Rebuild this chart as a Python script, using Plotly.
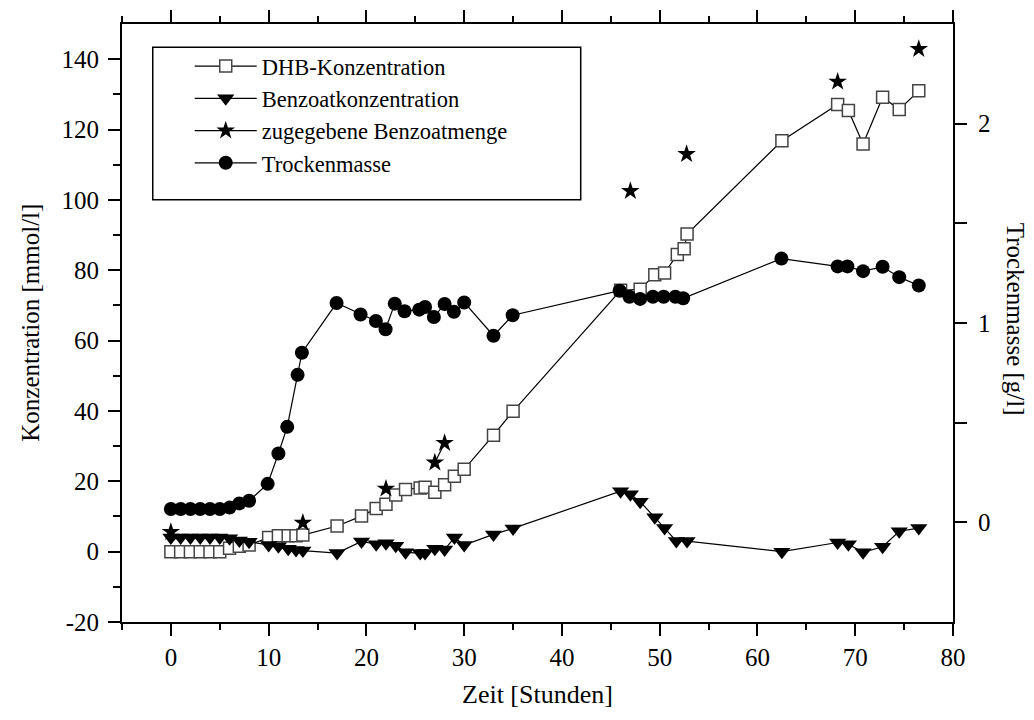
import plotly.graph_objects as go

# ---------------- data ----------------
dhb_t = [0, 1, 2, 3, 4, 5, 6, 7, 8, 10, 11, 12, 12.8, 13.5, 17, 19.5, 21, 22, 23, 24,
         25.5, 26, 27, 28, 29, 30, 33, 35, 46, 48, 49.5, 50.5, 51.8, 52.5, 52.8,
         62.5, 68.2, 69.3, 70.8, 72.8, 74.5, 76.5]
dhb_c = [0, 0, 0, 0, 0, 0, 1.0, 1.5, 1.9, 4.0, 4.5, 4.5, 4.5, 4.7, 7.3, 10.1, 12.3, 13.5, 16.1, 17.7,
         18.1, 18.3, 16.9, 19.0, 21.4, 23.4, 33.1, 39.9, 74.3, 74.6, 78.7, 79.2, 84.5, 86.1, 90.3,
         116.8, 127.1, 125.4, 115.9, 129.2, 125.7, 131.0]

benz_t = [0, 1, 2, 3, 4, 5, 6, 7, 8, 10, 11, 12, 12.8, 13.5, 17, 19.5, 21, 22, 23, 24,
          25.5, 26, 27, 28, 29, 30, 33, 35, 46, 47, 48, 49.5, 50.5, 51.7, 52.8,
          62.5, 68.2, 69.3, 70.8, 72.8, 74.5, 76.5]
benz_c = [4.0, 4.0, 4.0, 4.0, 4.0, 4.0, 3.8, 3.2, 2.8, 1.9, 1.5, 0.8, 0.5, 0.3, -0.4, 2.9, 2.1, 2.4, 1.7, -0.2,
          -0.4, -0.4, 0.8, 0.6, 4.0, 1.9, 4.9, 6.6, 17.2, 16.3, 14.2, 9.8, 6.7, 3.0, 3.0,
          0.0, 2.6, 2.1, -0.2, 1.4, 5.8, 6.7]

# added benzoate (None = gap, only 27 h -> 28 h are connected)
zug_t = [0, None, 13.5, None, 22, None, 27, 28, None, 47, None, 52.75, None, 68.2, None, 76.5]
zug_c = [5.6, None, 8.2, None, 17.9, None, 25.3, 30.9, None, 102.5, None, 113.0, None, 133.6, None, 142.9]

tm_t = [0, 1, 2, 3, 4, 5, 6, 7, 8, 9.9, 11.0, 11.9, 12.96, 13.4, 16.95, 19.4, 20.97, 21.96, 22.9,
        23.9, 25.4, 26.0, 26.9, 28.0, 28.95, 30.0, 33.0, 34.96, 45.9, 46.9, 48.0, 49.3, 50.4,
        51.6, 52.4, 62.45, 68.2, 69.2, 70.8, 72.8, 74.5, 76.5]
tm_g = [0.067, 0.067, 0.067, 0.067, 0.067, 0.067, 0.074, 0.095, 0.108, 0.193, 0.345, 0.479, 0.74,
        0.851, 1.10, 1.043, 1.01, 0.969, 1.097, 1.059, 1.067, 1.08, 1.03, 1.095, 1.056, 1.103,
        0.936, 1.039, 1.162, 1.132, 1.121, 1.132, 1.132, 1.132, 1.124, 1.323, 1.284, 1.284,
        1.26, 1.282, 1.23, 1.188]

x_ticks = [0, 10, 20, 30, 40, 50, 60, 70, 80]
y_ticks = [-20, 0, 20, 40, 60, 80, 100, 120, 140]
y_text = ["-20", "0", "20", "40", "60", "80", "100", "120", "140"]
y2_ticks = [0, 0.5, 1, 1.5, 2]
y2_text = ["0", "", "1", "", "2"]

FONT = "Liberation Serif"
LINE = dict(color="black", width=1.2)

fig = go.Figure()
fig.add_trace(go.Scatter(
    x=dhb_t, y=dhb_c, name="DHB-Konzentration", mode="lines+markers", line=LINE,
    legendgroup="a",
    marker=dict(symbol="square", size=12, color="white", line=dict(color="#444", width=1.5))))
fig.add_trace(go.Scatter(
    x=benz_t, y=benz_c, name="Benzoatkonzentration", mode="lines+markers", line=LINE,
    legendgroup="b",
    marker=dict(symbol="triangle-down", size=15, color="black", line=dict(width=0))))
fig.add_trace(go.Scatter(
    x=zug_t, y=zug_c, name="zugegebene Benzoatmenge", mode="lines+markers", line=LINE,
    legendgroup="c", connectgaps=False,
    marker=dict(symbol="star", size=14, color="black", line=dict(width=0))))
fig.add_trace(go.Scatter(
    x=tm_t, y=tm_g, name="Trockenmasse", mode="lines+markers", line=LINE, yaxis="y2",
    legendgroup="d",
    marker=dict(symbol="circle", size=14, color="black", line=dict(width=0))))

axis_common = dict(showgrid=False, zeroline=False, showline=True, linecolor="black",
                   linewidth=2, ticks="outside", tickwidth=2, ticklen=12, tickcolor="black",
                   tickfont=dict(family=FONT, size=25, color="black"))

fig.update_layout(
    width=1034, height=720,
    margin=dict(l=122, r=81, t=10, b=98),
    paper_bgcolor="white", plot_bgcolor="white",
    font=dict(family=FONT, color="black"),
    xaxis=dict(range=[-5, 80], tickvals=x_ticks, mirror="ticks",
               minor=dict(tickvals=[-5, 5, 15, 25, 35, 45, 55, 65, 75], ticklen=6,
                          tickwidth=2, tickcolor="black", ticks="outside"),
               **axis_common),
    yaxis=dict(range=[-20, 150], tickvals=y_ticks, ticktext=y_text, ticklabelstandoff=4,
               minor=dict(tickvals=[-10, 10, 30, 50, 70, 90, 110, 130], ticklen=7,
                          tickwidth=2, tickcolor="black", ticks="outside"),
               **axis_common),
    yaxis2=dict(range=[-0.5, 2.5], overlaying="y", side="right", tickvals=y2_ticks,
                ticktext=y2_text, ticklabelstandoff=6, **axis_common),
    showlegend=True,
    legend=dict(x=0.0815, y=0.965, xanchor="left", yanchor="top",
                bgcolor="rgba(0,0,0,0)", borderwidth=0, itemwidth=62,
                tracegroupgap=0,
                font=dict(family=FONT, size=22.5, color="black")),
    shapes=[dict(type="rect", xref="paper", yref="paper", x0=0.037, x1=0.552,
                 y0=0.706, y1=0.961, line=dict(color="black", width=1.5),
                 fillcolor="rgba(0,0,0,0)")],
    annotations=[
        dict(text="Zeit [Stunden]", xref="paper", yref="paper", x=0.5, y=-0.122,
             xanchor="center", yanchor="middle", showarrow=False,
             font=dict(family=FONT, size=26, color="black")),
        dict(text="Konzentration [mmol/l]", xref="paper", yref="paper", x=-0.111, y=0.5,
             xanchor="center", yanchor="middle", textangle=-90, showarrow=False,
             font=dict(family=FONT, size=25, color="black")),
        dict(text="Trockenmasse [g/l]", xref="paper", yref="paper", x=1.0747, y=0.507,
             xanchor="center", yanchor="middle", textangle=90, showarrow=False,
             font=dict(family=FONT, size=25, color="black")),
    ],
)

fig.write_html("out.html")
